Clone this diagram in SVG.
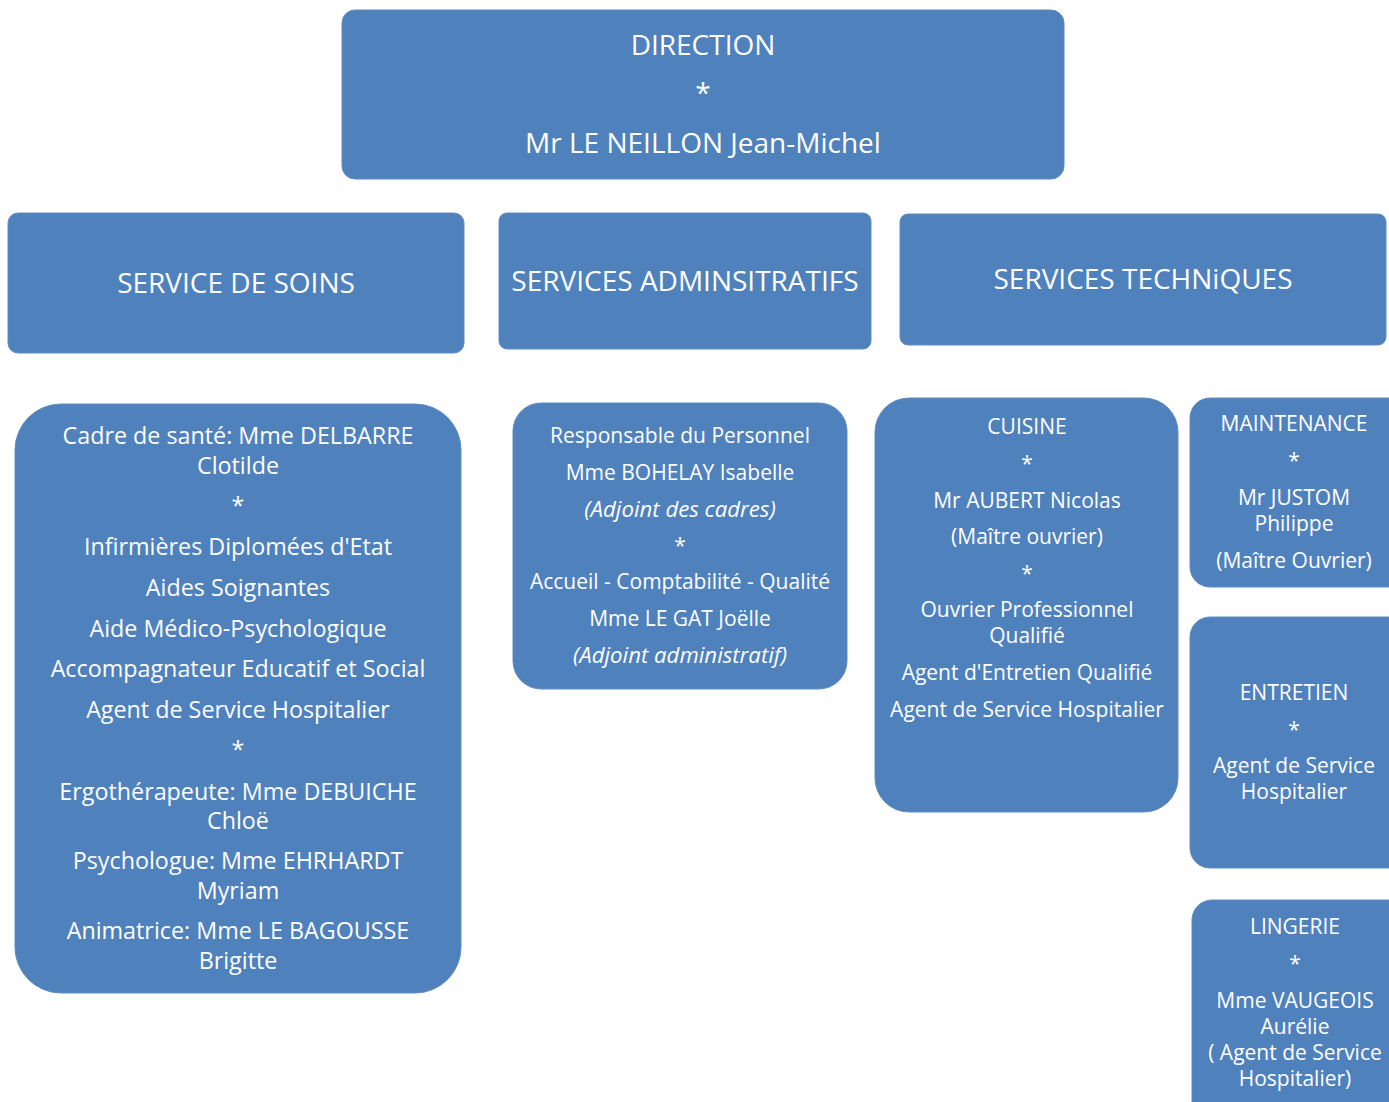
<svg xmlns="http://www.w3.org/2000/svg" width="1389" height="1102" viewBox="0 0 1389 1102">
<style>
.box{fill:#4F81BD;stroke:#5F8CC3;stroke-width:1}
text{font-family:"Open Sans","Noto Sans","Liberation Sans",sans-serif;fill:#FFFFFF;text-anchor:middle}
.h{font-size:28px}
.d{font-size:23.3px}
.a{font-size:21px}
.s{font-size:21px}
.i{font-style:italic;font-size:22.2px}
</style>
<rect width="1389" height="1102" fill="#FFFFFF"/>
<g id="connectors"></g>
<g id="direction">
<rect class="box" x="342" y="10" width="722" height="169" rx="13"/>
<text class="h" x="703" y="55">DIRECTION</text>
<text class="h" x="703" y="103">*</text>
<text class="h" x="703" y="153">Mr LE NEILLON Jean-Michel</text>
</g>
<g id="service-soins">
<rect class="box" x="8" y="213" width="456" height="140" rx="10"/>
<text class="h" x="236" y="293">SERVICE DE SOINS</text>
</g>
<g id="services-administratifs">
<rect class="box" x="499" y="213" width="372" height="136" rx="8"/>
<text class="h" x="685" y="291">SERVICES ADMINSITRATIFS</text>
</g>
<g id="services-techniques">
<rect class="box" x="900" y="214" width="486" height="131" rx="8"/>
<text class="h" x="1143" y="289">SERVICES TECHNiQUES</text>
</g>
<g id="soins-detail">
<rect class="box" x="15" y="404" width="446" height="589" rx="46"/>
<text class="d" x="238" y="444">Cadre de santé: Mme DELBARRE</text>
<text class="d" x="238" y="474">Clotilde</text>
<text class="d" x="238" y="514">*</text>
<text class="d" x="238" y="555">Infirmières Diplomées d'Etat</text>
<text class="d" x="238" y="596">Aides Soignantes</text>
<text class="d" x="238" y="637">Aide Médico-Psychologique</text>
<text class="d" x="238" y="677">Accompagnateur Educatif et Social</text>
<text class="d" x="238" y="718">Agent de Service Hospitalier</text>
<text class="d" x="238" y="758">*</text>
<text class="d" x="238" y="800">Ergothérapeute: Mme DEBUICHE</text>
<text class="d" x="238" y="829">Chloë</text>
<text class="d" x="238" y="869">Psychologue: Mme EHRHARDT</text>
<text class="d" x="238" y="899">Myriam</text>
<text class="d" x="238" y="939">Animatrice: Mme LE BAGOUSSE</text>
<text class="d" x="238" y="969">Brigitte</text>
</g>
<g id="administratifs-detail">
<rect class="box" x="513" y="403" width="334" height="286" rx="28"/>
<text class="a" x="680" y="443">Responsable du Personnel</text>
<text class="a" x="680" y="480">Mme BOHELAY Isabelle</text>
<text class="a i" x="680" y="517">(Adjoint des cadres)</text>
<text class="a" x="680" y="553">*</text>
<text class="a" x="680" y="589">Accueil - Comptabilité - Qualité</text>
<text class="a" x="680" y="626">Mme LE GAT Joëlle</text>
<text class="a i" x="680" y="663">(Adjoint administratif)</text>
</g>
<g id="cuisine">
<rect class="box" x="875" y="398" width="303" height="414" rx="34"/>
<text class="s" x="1027" y="434">CUISINE</text>
<text class="s" x="1027" y="471">*</text>
<text class="s" x="1027" y="508">Mr AUBERT Nicolas</text>
<text class="s" x="1027" y="544">(Maître ouvrier)</text>
<text class="s" x="1027" y="581">*</text>
<text class="s" x="1027" y="617">Ouvrier Professionnel</text>
<text class="s" x="1027" y="643">Qualifié</text>
<text class="s" x="1027" y="680">Agent d'Entretien Qualifié</text>
<text class="s" x="1027" y="717">Agent de Service Hospitalier</text>
</g>
<g id="maintenance">
<rect class="box" x="1190" y="398" width="220" height="189" rx="20"/>
<text class="s" x="1294" y="431">MAINTENANCE</text>
<text class="s" x="1294" y="468">*</text>
<text class="s" x="1294" y="505">Mr JUSTOM</text>
<text class="s" x="1294" y="531">Philippe</text>
<text class="s" x="1294" y="568">(Maître Ouvrier)</text>
</g>
<g id="entretien">
<rect class="box" x="1190" y="617" width="220" height="251" rx="20"/>
<text class="s" x="1294" y="700">ENTRETIEN</text>
<text class="s" x="1294" y="737">*</text>
<text class="s" x="1294" y="773">Agent de Service</text>
<text class="s" x="1294" y="799">Hospitalier</text>
</g>
<g id="lingerie">
<rect class="box" x="1192" y="900" width="220" height="230" rx="20"/>
<text class="s" x="1295" y="934">LINGERIE</text>
<text class="s" x="1295" y="971">*</text>
<text class="s" x="1295" y="1008">Mme VAUGEOIS</text>
<text class="s" x="1295" y="1034">Aurélie</text>
<text class="s" x="1295" y="1060">( Agent de Service</text>
<text class="s" x="1295" y="1086">Hospitalier)</text>
</g>
</svg>
